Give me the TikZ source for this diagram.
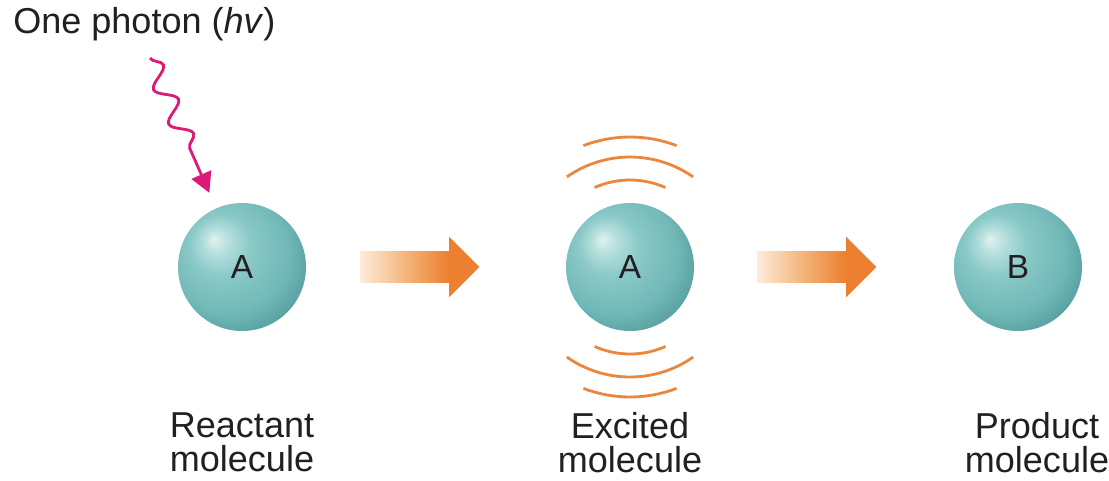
\documentclass[tikz,border=0pt]{standalone}
\usepackage{fontspec}
\setmainfont{Liberation Sans}
\usepackage{tikz}
\usetikzlibrary{shapes.arrows, arrows.meta, positioning, decorations.pathmorphing}

\definecolor{labelgray}{RGB}{35,31,32}
\definecolor{photonpink}{RGB}{218,28,120}
\definecolor{vibeorange}{RGB}{234,135,60}
\definecolor{arroworange}{RGB}{236,128,48}
\definecolor{arrowpale}{RGB}{253,236,218}
\definecolor{arrowmid}{RGB}{243,178,118}
\definecolor{spherelight}{RGB}{226,241,239}
\definecolor{spheresoft}{RGB}{180,223,221}
\definecolor{spheremid}{RGB}{138,201,199}
\definecolor{spherebody}{RGB}{112,184,183}
\definecolor{sphereedge}{RGB}{80,152,153}
\definecolor{spheredark}{RGB}{62,130,132}

% soft teal ball, lit from the upper left
\pgfdeclareradialshading{sphereshade}{\pgfpoint{-11bp}{11bp}}{%
  color(0bp)=(spherelight); color(5bp)=(spheresoft); color(12bp)=(spheremid);
  color(24bp)=(spherebody); color(34bp)=(sphereedge); color(41bp)=(spheredark);
  color(50bp)=(spheredark)}
% block arrow fading in from the tail
\pgfdeclarehorizontalshading{arrowfade}{100bp}{%
  color(0bp)=(white); color(25bp)=(arrowpale); color(45bp)=(arrowmid);
  color(62bp)=(arroworange); color(100bp)=(arroworange)}

\tikzset{
    molecule/.style = {circle, minimum size=2.56cm, inner sep=0pt, outer sep=0pt, shade, shading=sphereshade, text=labelgray, font=\fontsize{19}{22}\selectfont},
    fadearrow/.style = {single arrow, shade, shading=arrowfade, inner xsep=0pt, inner ysep=0.31cm, minimum height=2.38cm, single arrow head extend=0.29cm},
    caption/.style = {align=center, inner sep=0pt, anchor=north, text=labelgray, font=\fontsize{20.5}{19.5}\selectfont},
    photon/.style = {draw=photonpink, line width=1.6pt, -{Triangle[length=0.4cm, width=0.42cm]}, shorten >=0.34cm, decorate, decoration={snake, amplitude=0.19cm, segment length=0.75cm, post length=1.02cm}},
    vibe/.style = {draw=vibeorange, line width=1.6pt}
}

\begin{document}
\begin{tikzpicture}
\useasboundingbox (0,0) rectangle (22.18,9.6);

\node[molecule] (reactant) at (4.84,4.26) {A};
\node[molecule, right=5.2cm of reactant] (excited) {A};
\node[molecule, right=5.2cm of excited] (product) {B};

\node[fadearrow, anchor=tail] (go1) at ([xshift=1.08cm]reactant.east) {};
\node[fadearrow, anchor=tail] (go2) at ([xshift=1.26cm]excited.east) {};

\node[caption] (lreactant) at ([yshift=-2.9cm]reactant.center) {Reactant\\molecule};
\node[caption] (lexcited) at ([yshift=-2.9cm]excited.center) {Excited\\molecule};
\node[caption] (lproduct) at ([xshift=0.38cm, yshift=-2.9cm]product.center) {Product\\molecule};

\node[caption, anchor=base west] (photon) at (0.26,8.94) {One photon (\textit{hv})};
\coordinate (hvstart) at (3.0,8.44);
\draw[photon] (hvstart) -- (reactant);

% vibration arcs above and below the excited molecule
\foreach \rad/\half in {1.74/24, 2.2/35, 2.6/21} {
  \draw[vibe] ([shift={(90-\half:\rad)}]excited.center) arc[start angle=90-\half, end angle=90+\half, radius=\rad];
  \draw[vibe] ([shift={(270-\half:\rad)}]excited.center) arc[start angle=270-\half, end angle=270+\half, radius=\rad];
}

\end{tikzpicture}
\end{document}
